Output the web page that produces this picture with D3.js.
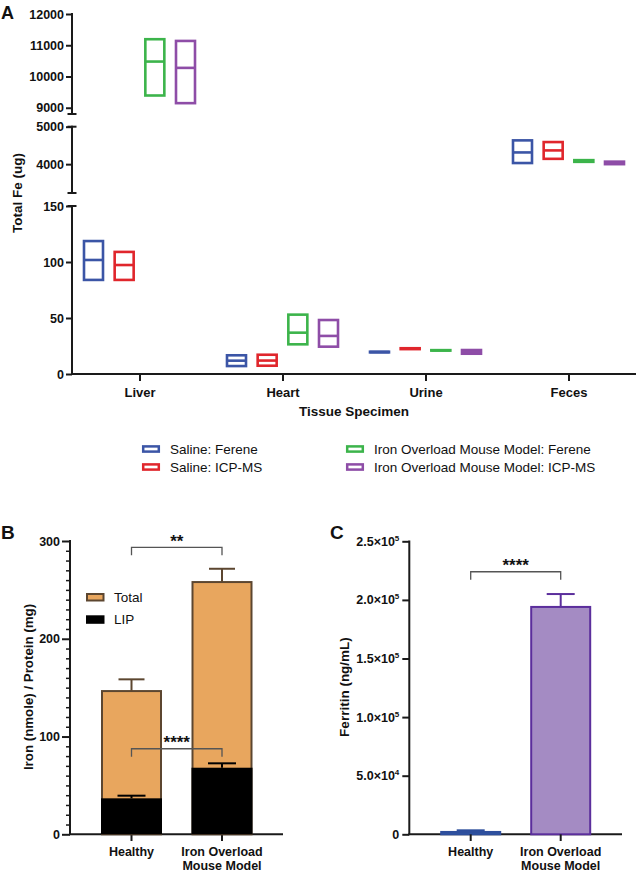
<!DOCTYPE html>
<html><head><meta charset="utf-8">
<script src="https://cdn.jsdelivr.net/npm/d3@7"></script>
<style>body{margin:0;background:#fff} svg text{font-family:"Liberation Sans",Arial,Helvetica,sans-serif;fill:#111}</style>
</head><body><svg id="c" width="638" height="871"></svg>
<script>
// ---------- Panel A data ----------
const categories = ["Liver","Heart","Urine","Feces"];
const seriesNames = ["Saline: Ferene","Saline: ICP-MS","Iron Overload Mouse Model: Ferene","Iron Overload Mouse Model: ICP-MS"];
const salineFereneLow  = [84, 7.1, 19.3, 4030];
const salineFereneMean = [101.8, 11.9, 19.6, 4313];
const salineFereneHigh = [118.7, 16.7, 19.9, 4635];
const salineIcpLow  = [84, 7.4, 22.2, 4142];
const salineIcpMean = [97.3, 12.0, 22.6, 4367];
const salineIcpHigh = [109, 17.2, 23.0, 4590];
const ironFereneLow  = [9392, 26.5, 20.9, 4062];
const ironFereneMean = [10478, 36.9, 21.1, 4085];
const ironFereneHigh = [11193, 53.0, 21.3, 4107];
const ironIcpLow  = [9147, 24.4, 18.1, 4000];
const ironIcpMean = [10276, 34.0, 19.7, 4030];
const ironIcpHigh = [11138, 48.2, 21.4, 4067];
const segTopTicks = [9000, 10000, 11000, 12000];
const segMidTicks = [4000, 5000];
const segLowTicks = [0, 50, 100, 150];

// ---------- Panel B data ----------
const groupsB = ["Healthy", "Iron Overload|Mouse Model"];
const totalMean = [146.5, 258];
const totalErr  = [12, 13.6];
const lipMean = [36.8, 68.1];
const lipErr  = [2.7, 4.5];
const ticksB = [0, 100, 200, 300];
const legendB = ["Total", "LIP"];
const sigB = [["**", 293.5], ["****", 87.5]];

// ---------- Panel C data ----------
const groupsC = ["Healthy", "Iron Overload|Mouse Model"];
const ferritinMean = [2000, 194000];
const ferritinErr  = [1400, 11000];
const ticksC = [0, 50000, 100000, 150000, 200000, 250000];
const tickLabelsC = [["0",""],["5.0×10","4"],["1.0×10","5"],["1.5×10","5"],["2.0×10","5"],["2.5×10","5"]];
const sigC = [["****", 224000]];

// ---------- styles ----------
const seriesColors = ["#3B55A6","#E0262C","#3CB44B","#8E4DA7"];
const svg = d3.select("#c");
const AX = "#1a1a1a";

function styleAxis(g, fs) {
  g.select(".domain").remove();
  g.selectAll("line").attr("stroke", AX).attr("stroke-width", 2);
  g.selectAll("text").attr("font-size", fs).attr("font-weight", "bold").attr("fill", "#111");
}
function bracket(x1, x2, y, label) {
  svg.append("path").attr("d", `M${x1},${y + 8}V${y}H${x2}V${y + 8}`).attr("fill", "none")
    .attr("stroke", "#555").attr("stroke-width", 1.3);
  svg.append("text").attr("x", (x1 + x2) / 2).attr("y", y - 0.5).attr("text-anchor", "middle")
    .attr("font-size", 17).attr("font-weight", "bold").text(label);
}

// ================= Panel A =================
svg.append("text").attr("x", 1).attr("y", 19).attr("font-size", 18).attr("font-weight", "bold").text("A");

const axA = 72;
const yTop = d3.scaleLinear().domain([8800, 12000]).range([114, 14]);
const yMid = d3.scaleLinear().domain([3230, 5000]).range([193, 126.7]);
const yLow = d3.scaleLinear().domain([0, 150]).range([374, 206]);
function segScale(v) { return v >= 8000 ? yTop : (v >= 3000 ? yMid : yLow); }

[[yTop, segTopTicks], [yMid, segMidTicks], [yLow, segLowTicks]].forEach(([s, tv]) => {
  const g = svg.append("g").attr("transform", `translate(${axA},0)`)
    .call(d3.axisLeft(s).tickValues(tv).tickFormat(d3.format("d")).tickSize(6).tickPadding(2).tickSizeOuter(0));
  styleAxis(g, 12.5);
  const r = s.range();
  svg.append("line").attr("x1", axA).attr("x2", axA).attr("y1", r[0] + 1).attr("y2", r[1] - 1)
    .attr("stroke", AX).attr("stroke-width", 2);
});
// break caps
[yTop.range()[0], yMid.range()[1], yMid.range()[0], yLow.range()[1]].forEach(y => {
  svg.append("line").attr("x1", axA - 4.5).attr("x2", axA + 4.5).attr("y1", y).attr("y2", y)
    .attr("stroke", AX).attr("stroke-width", 2);
});

const xA = d3.scalePoint().domain(categories).range([139.5, 568.5]);
const xOff = d3.scalePoint().domain(seriesNames).range([-46, 46]);
const gxA = svg.append("g").attr("transform", "translate(0,374)")
  .call(d3.axisBottom(xA).tickSize(7).tickPadding(7));
styleAxis(gxA, 13);
svg.append("line").attr("x1", axA - 1).attr("x2", 636).attr("y1", 374).attr("y2", 374)
  .attr("stroke", AX).attr("stroke-width", 2);

svg.append("text").attr("x", 354).attr("y", 416).attr("text-anchor", "middle")
  .attr("font-size", 13.5).attr("font-weight", "bold").text("Tissue Specimen");
svg.append("text").attr("transform", "translate(22,193) rotate(-90)").attr("text-anchor", "middle")
  .attr("font-size", 13.5).attr("font-weight", "bold").text("Total Fe (ug)");

const seriesData = [
  [salineFereneLow, salineFereneMean, salineFereneHigh],
  [salineIcpLow, salineIcpMean, salineIcpHigh],
  [ironFereneLow, ironFereneMean, ironFereneHigh],
  [ironIcpLow, ironIcpMean, ironIcpHigh]
];
const boxW = 19;
seriesData.forEach((sd, si) => {
  categories.forEach((c, ci) => {
    const lo = sd[0][ci], mn = sd[1][ci], hi = sd[2][ci];
    const s = segScale(mn);
    const cx = xA(c) + xOff(seriesNames[si]);
    const y1 = s(hi), y2 = s(lo);
    svg.append("rect").attr("x", cx - boxW / 2).attr("y", y1).attr("width", boxW)
      .attr("height", Math.max(0.01, y2 - y1)).attr("fill", "none")
      .attr("stroke", seriesColors[si]).attr("stroke-width", 2.6);
    svg.append("line").attr("x1", cx - boxW / 2).attr("x2", cx + boxW / 2)
      .attr("y1", s(mn)).attr("y2", s(mn)).attr("stroke", seriesColors[si]).attr("stroke-width", 2.6);
  });
});

// legend A
const legPos = [[142, 449], [142, 467], [346, 449], [346, 467]];
seriesNames.forEach((n, i) => {
  const [lx, ly] = legPos[i];
  svg.append("rect").attr("x", lx + 1.2).attr("y", ly - 2.6).attr("width", 15.6).attr("height", 5.2)
    .attr("fill", "none").attr("stroke", seriesColors[i]).attr("stroke-width", 2.5);
  svg.append("text").attr("x", lx + 28).attr("y", ly + 4.7).attr("font-size", 13.5).text(n);
});

// ================= Panel B =================
svg.append("text").attr("x", 1).attr("y", 539).attr("font-size", 19).attr("font-weight", "bold").text("B");
const axB = 70;
const yB = d3.scaleLinear().domain([0, 300]).range([834.3, 541]);
const xB = d3.scalePoint().domain(groupsB).range([131.5, 222]);
const gyB = svg.append("g").attr("transform", `translate(${axB},0)`)
  .call(d3.axisLeft(yB).tickValues(ticksB).tickSize(8).tickPadding(2).tickSizeOuter(0));
styleAxis(gyB, 12.5);
svg.append("g").attr("transform", `translate(${axB},0)`)
  .call(d3.axisLeft(yB).tickValues(d3.range(10, 300, 10).filter(v => v % 100 !== 0)).tickSize(4).tickFormat(""))
  .call(g => { g.select(".domain").remove(); g.selectAll("line").attr("stroke", AX).attr("stroke-width", 1.5); });
svg.append("line").attr("x1", axB).attr("x2", axB).attr("y1", 835).attr("y2", 540).attr("stroke", AX).attr("stroke-width", 2);
svg.append("line").attr("x1", axB - 1).attr("x2", 283).attr("y1", 834.3).attr("y2", 834.3).attr("stroke", AX).attr("stroke-width", 2);
groupsB.forEach(gname => {
  const cx = xB(gname);
  svg.append("line").attr("x1", cx).attr("x2", cx).attr("y1", 834.3).attr("y2", 841).attr("stroke", AX).attr("stroke-width", 2);
  gname.split("|").forEach((t, k) => {
    svg.append("text").attr("x", cx).attr("y", 855.5 + k * 14).attr("text-anchor", "middle")
      .attr("font-size", 12.5).attr("font-weight", "bold").text(t);
  });
});
svg.append("text").attr("transform", "translate(33,687) rotate(-90)").attr("text-anchor", "middle")
  .attr("font-size", 13.3).attr("font-weight", "bold").text("Iron (nmole) / Protein (mg)");

const brown = "#5C4630", orange = "#E8A65E";
const barW = 59;
groupsB.forEach((gname, i) => {
  const cx = xB(gname);
  svg.append("line").attr("x1", cx).attr("x2", cx).attr("y1", yB(totalMean[i])).attr("y2", yB(totalMean[i] + totalErr[i])).attr("stroke", brown).attr("stroke-width", 2);
  svg.append("line").attr("x1", cx - 13).attr("x2", cx + 13).attr("y1", yB(totalMean[i] + totalErr[i])).attr("y2", yB(totalMean[i] + totalErr[i])).attr("stroke", brown).attr("stroke-width", 2);
  svg.append("rect").attr("x", cx - barW / 2).attr("y", yB(totalMean[i])).attr("width", barW)
    .attr("height", yB(0) - yB(totalMean[i])).attr("fill", orange).attr("stroke", brown).attr("stroke-width", 2);
  svg.append("rect").attr("x", cx - barW / 2 - 1).attr("y", yB(lipMean[i])).attr("width", barW + 2)
    .attr("height", yB(0) - yB(lipMean[i])).attr("fill", "#000");
  svg.append("line").attr("x1", cx).attr("x2", cx).attr("y1", yB(lipMean[i])).attr("y2", yB(lipMean[i] + lipErr[i])).attr("stroke", "#000").attr("stroke-width", 2);
  svg.append("line").attr("x1", cx - 14).attr("x2", cx + 14).attr("y1", yB(lipMean[i] + lipErr[i])).attr("y2", yB(lipMean[i] + lipErr[i])).attr("stroke", "#000").attr("stroke-width", 2);
});
// legend B
[[orange, brown], ["#000", "#000"]].forEach((c, i) => {
  const ly = 597 + i * 22.3;
  svg.append("rect").attr("x", 87).attr("y", ly - 3).attr("width", 16.5).attr("height", 6.5)
    .attr("fill", c[0]).attr("stroke", c[1]).attr("stroke-width", 2);
  svg.append("text").attr("x", 114).attr("y", ly + 4.7).attr("font-size", 13.5).text(legendB[i]);
});
sigB.forEach(([lab, v]) => bracket(xB(groupsB[0]), xB(groupsB[1]), yB(v), lab));

// ================= Panel C =================
svg.append("text").attr("x", 330).attr("y", 539).attr("font-size", 19).attr("font-weight", "bold").text("C");
const axC = 409.3;
const yC = d3.scaleLinear().domain([0, 250000]).range([834.3, 541.3]);
const xC = d3.scalePoint().domain(groupsC).range([470.7, 560.7]);
const gyC = svg.append("g").attr("transform", `translate(${axC},0)`)
  .call(d3.axisLeft(yC).tickValues(ticksC).tickSize(7).tickPadding(3).tickSizeOuter(0));
styleAxis(gyC, 12.5);
gyC.selectAll(".tick text").each(function(d, i) {
  const t = d3.select(this); t.text(null);
  const lab = tickLabelsC[i];
  t.append("tspan").text(lab[0]);
  if (lab[1]) t.append("tspan").attr("dy", -5).attr("font-size", 8).text(lab[1]);
});
svg.append("line").attr("x1", axC).attr("x2", axC).attr("y1", 835).attr("y2", 540.5).attr("stroke", AX).attr("stroke-width", 2);
svg.append("line").attr("x1", axC - 1).attr("x2", 622).attr("y1", 834.3).attr("y2", 834.3).attr("stroke", AX).attr("stroke-width", 2);
const cFill = ["#2F5BA9", "#A48BC3"], cStroke = ["#2D4E9C", "#5B2E9C"];
groupsC.forEach((gname, i) => {
  const cx = xC(gname);
  svg.append("line").attr("x1", cx).attr("x2", cx).attr("y1", yC(ferritinMean[i])).attr("y2", yC(ferritinMean[i] + ferritinErr[i])).attr("stroke", cStroke[i]).attr("stroke-width", 2);
  svg.append("line").attr("x1", cx - 14).attr("x2", cx + 14).attr("y1", yC(ferritinMean[i] + ferritinErr[i])).attr("y2", yC(ferritinMean[i] + ferritinErr[i])).attr("stroke", cStroke[i]).attr("stroke-width", 2);
  svg.append("rect").attr("x", cx - barW / 2).attr("y", yC(ferritinMean[i])).attr("width", barW)
    .attr("height", yC(0) - yC(ferritinMean[i])).attr("fill", cFill[i]).attr("stroke", cStroke[i]).attr("stroke-width", 2);
  svg.append("line").attr("x1", cx).attr("x2", cx).attr("y1", 834.3).attr("y2", 841).attr("stroke", AX).attr("stroke-width", 2);
  gname.split("|").forEach((t, k) => {
    svg.append("text").attr("x", cx).attr("y", 855.5 + k * 14).attr("text-anchor", "middle")
      .attr("font-size", 12.5).attr("font-weight", "bold").text(t);
  });
});
sigC.forEach(([lab, v]) => bracket(xC(groupsC[0]), xC(groupsC[1]), yC(v), lab));
svg.append("text").attr("transform", "translate(349,687) rotate(-90)").attr("text-anchor", "middle")
  .attr("font-size", 13.5).attr("font-weight", "bold").text("Ferritin (ng/mL)");
</script></body></html>
